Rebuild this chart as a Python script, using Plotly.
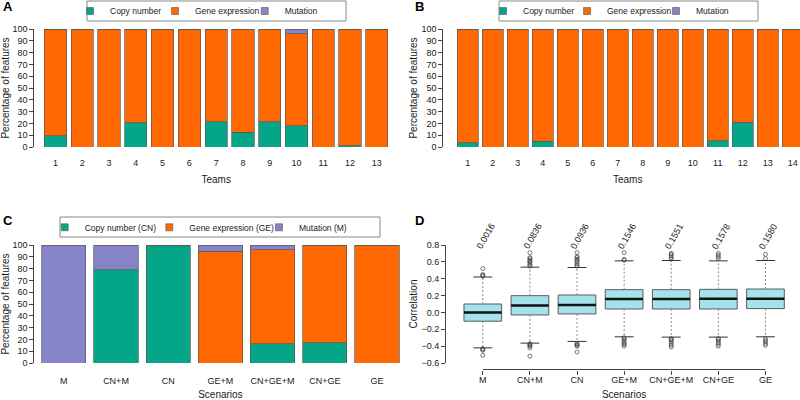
import plotly.graph_objects as go

# ---------------- data ----------------
teams_a = [str(i) for i in range(1, 14)]
cn_a = [9.5, 0, 0, 20.5, 0, 0, 21.5, 12.5, 21.5, 18, 0, 1, 0]
ge_a = [90.5, 100, 100, 79.5, 100, 100, 78.5, 87.5, 78, 78, 100, 99, 100]
mut_a = [0, 0, 0, 0, 0, 0, 0, 0, 0.5, 4, 0, 0, 0]

teams_b = [str(i) for i in range(1, 15)]
cn_b = [3.5, 0, 0, 5, 0, 0, 0, 0, 0, 0, 5.5, 21, 0, 0]
ge_b = [96.5, 100, 100, 95, 100, 100, 100, 100, 100, 100, 94.5, 79, 100, 100]
mut_b = [0] * 14

scenarios = ["M", "CN+M", "CN", "GE+M", "CN+GE+M", "CN+GE", "GE"]
cn_c = [0, 79, 100, 0, 16.5, 17, 0]
ge_c = [0, 0, 0, 94.5, 79.5, 83, 100]
mut_c = [100, 21, 0, 5.5, 4, 0, 0]

q1_d = [-0.104, -0.03, -0.018, 0.041, 0.041, 0.041, 0.045]
med_d = [0.0, 0.081, 0.089, 0.159, 0.159, 0.163, 0.163]
q3_d = [0.10, 0.199, 0.207, 0.27, 0.27, 0.274, 0.278]
whisk_lo_d = [-0.42, -0.364, -0.344, -0.289, -0.293, -0.293, -0.289]
whisk_hi_d = [0.42, 0.537, 0.533, 0.612, 0.616, 0.612, 0.616]
out_hi_d = [
    [0.43, 0.44, 0.45, 0.52],
    [0.55, 0.56, 0.58, 0.60, 0.61, 0.62, 0.64, 0.65, 0.71],
    [0.55, 0.56, 0.58, 0.60, 0.62, 0.63, 0.65, 0.66, 0.71],
    [0.62, 0.63, 0.71],
    [0.63, 0.65, 0.67, 0.69, 0.70],
    [0.64, 0.66, 0.68, 0.70],
    [0.64, 0.69],
]
out_lo_d = [
    [-0.43, -0.44, -0.45, -0.51],
    [-0.37, -0.38, -0.39, -0.40, -0.42, -0.52],
    [-0.37, -0.38, -0.39, -0.40, -0.47],
    [-0.30, -0.31, -0.33, -0.35, -0.37, -0.38, -0.40],
    [-0.31, -0.32, -0.33, -0.35, -0.37, -0.39, -0.41],
    [-0.31, -0.32, -0.34, -0.36, -0.38, -0.40],
    [-0.31, -0.33, -0.35, -0.37, -0.39],
]
means_d = [0.0016, 0.0836, 0.0936, 0.1546, 0.1551, 0.1578, 0.1580]

names_ab = ["Copy number", "Gene expression", "Mutation"]
names_c = ["Copy number (CN)", "Gene expression (GE)", "Mutation (M)"]

# ---------------- style ----------------
C_CN = "#05A688"
C_GE = "#FF6800"
C_M = "#8584C6"
C_BOX = "#A4E3EC"
EDGE = "#5a5a5a"
FONT = "Liberation Sans, Arial, Helvetica, sans-serif"
TXT = "#1a1a1a"

W, H = 800, 400


def px(x):
    return x / W


def py(y):
    return 1 - y / H


fig = go.Figure()


def add_stack(xaxis, yaxis, n, cn, ge, mut, width, names):
    pos = list(range(1, n + 1))
    for vals, col, nm in zip([cn, ge, mut], [C_CN, C_GE, C_M], names):
        fig.add_trace(go.Bar(x=pos, y=vals, width=width, marker=dict(color=col, line=dict(color=EDGE, width=0.7)),
                             name=nm, showlegend=False, xaxis=xaxis, yaxis=yaxis, hoverinfo="x+y+name"))


add_stack("x", "y", len(teams_a), cn_a, ge_a, mut_a, 0.833, names_ab)
add_stack("x2", "y2", len(teams_b), cn_b, ge_b, mut_b, 0.833, names_ab)
add_stack("x3", "y3", len(scenarios), cn_c, ge_c, mut_c, 0.85, names_c)

# legend entries: one single-item legend per entry, positioned like the R legends
legend_specs = [
    # (xaxis, yaxis, names, text x-starts in px, text centre y in px)
    ("x", "y", names_ab, [110, 195, 284.7], 11),
    ("x2", "y2", names_ab, [523, 607, 696], 11),
    ("x3", "y3", names_c, [84.7, 189.3, 299], 227.3),
]
leg_layout = {}
k = 0
for xa, ya, names, xs, yc in legend_specs:
    for col, nm, xt in zip([C_CN, C_GE, C_M], names, xs):
        k += 1
        lid = "legend" if k == 1 else f"legend{k}"
        fig.add_trace(go.Scatter(x=[None], y=[None], mode="markers", name=nm, legend=lid,
                                 marker=dict(symbol="square", size=7, color=col, line=dict(color=EDGE, width=0.6)),
                                 xaxis=xa, yaxis=ya, showlegend=True))
        leg_layout[lid] = dict(orientation="h", xanchor="left", yanchor="middle", borderwidth=0,
                               bgcolor="rgba(0,0,0,0)", font=dict(family=FONT, size=8.5, color=TXT),
                               itemwidth=30, x=px(xt - 40), y=py(yc))

# ---------------- panel D boxes ----------------
pos_d = list(range(1, len(scenarios) + 1))
BW = 0.8
fig.add_trace(go.Box(x=pos_d, q1=q1_d, median=med_d, q3=q3_d, lowerfence=q1_d, upperfence=q3_d,
                     width=BW, fillcolor=C_BOX, line=dict(color=EDGE, width=1), whiskerwidth=0,
                     boxpoints=False, showlegend=False, xaxis="x4", yaxis="y4", name="Correlation"))

wx, wy = [], []
cx, cy = [], []
mx, my = [], []
ox, oy = [], []
for i, p in enumerate(pos_d):
    wx += [p, p, None, p, p, None]
    wy += [q3_d[i], whisk_hi_d[i], None, q1_d[i], whisk_lo_d[i], None]
    cx += [p - BW / 4, p + BW / 4, None, p - BW / 4, p + BW / 4, None]
    cy += [whisk_hi_d[i], whisk_hi_d[i], None, whisk_lo_d[i], whisk_lo_d[i], None]
    mx += [p - BW / 2, p + BW / 2, None]
    my += [med_d[i], med_d[i], None]
    for v in out_hi_d[i] + out_lo_d[i]:
        ox.append(p)
        oy.append(v)

fig.add_trace(go.Scatter(x=wx, y=wy, mode="lines", line=dict(color="#8a8a8a", width=1, dash="2px,2px"),
                         showlegend=False, xaxis="x4", yaxis="y4", hoverinfo="skip"))
fig.add_trace(go.Scatter(x=cx, y=cy, mode="lines", line=dict(color="#333", width=1),
                         showlegend=False, xaxis="x4", yaxis="y4", hoverinfo="skip"))
fig.add_trace(go.Scatter(x=mx, y=my, mode="lines", line=dict(color="#111", width=2.5),
                         showlegend=False, xaxis="x4", yaxis="y4", hoverinfo="skip"))
fig.add_trace(go.Scatter(x=ox, y=oy, mode="markers",
                         marker=dict(symbol="circle-open", size=4, color="#444", line=dict(width=0.7)),
                         showlegend=False, xaxis="x4", yaxis="y4", hoverinfo="y"))

# ---------------- axes ----------------
tickfont = dict(family=FONT, size=9, color=TXT)
titlefont = dict(family=FONT, size=10, color=TXT)

ybase = dict(range=[0, 100], dtick=10, tick0=0, showline=True, linecolor="#444", linewidth=1,
             ticks="outside", ticklen=4, tickcolor="#444", showgrid=False, zeroline=False,
             tickfont=tickfont, anchor="free", automargin=False,
             title=dict(text="Percentage of features", font=titlefont, standoff=2))

xbar = dict(showline=False, ticks="", showgrid=False, zeroline=False, tickfont=tickfont,
            ticklabelstandoff=9, automargin=False)

fig.update_layout(
    xaxis=dict(xbar, domain=[px(42.1), px(390.2)], range=[0.5, 13.5], tickvals=list(range(1, 14)),
               ticktext=teams_a, anchor="y", title=dict(text="Teams", font=titlefont, standoff=8)),
    yaxis=dict(ybase, domain=[py(147), py(29)], position=px(33.3)),
    xaxis2=dict(xbar, domain=[px(455.3), 1.0], range=[0.5, 14.29], tickvals=list(range(1, 15)),
                ticktext=teams_b, anchor="y2", title=dict(text="Teams", font=titlefont, standoff=8)),
    yaxis2=dict(ybase, domain=[py(147), py(29)], position=px(442.3),
                title=dict(text="Percentage of features", font=titlefont, standoff=0)),
    xaxis3=dict(xbar, domain=[px(37.7), px(403.1)], range=[0.5, 7.5], tickvals=pos_d,
                ticktext=scenarios, anchor="y3", ticklabelstandoff=11,
                title=dict(text="Scenarios", font=titlefont, standoff=5)),
    yaxis3=dict(ybase, domain=[py(363), py(245)], position=px(33.3)),
    xaxis4=dict(domain=[px(459.25), px(789)], range=[0.5, 7.5], tickvals=pos_d, ticktext=scenarios,
                showline=False, ticks="outside", ticklen=4, tickcolor="#444", showgrid=False,
                zeroline=False, tickfont=tickfont, anchor="free", position=py(369.5), automargin=False,
                ticklabelstandoff=-2,
                title=dict(text="Scenarios", font=titlefont, standoff=7)),
    yaxis4=dict(domain=[py(363), py(245)], range=[-0.6, 0.8], dtick=0.2, tick0=-0.6, tickformat=".1f",
                showline=True, linecolor="#444", linewidth=1, ticks="outside", ticklen=4, tickcolor="#444",
                showgrid=False, zeroline=False, tickfont=tickfont, anchor="free", position=px(445),
                automargin=False, title=dict(text="Correlation", font=titlefont, standoff=0)),
    barmode="stack",
    width=W, height=H,
    margin=dict(l=0, r=0, t=0, b=0, pad=0, autoexpand=False),
    plot_bgcolor="white", paper_bgcolor="white",
    font=dict(family=FONT, size=9, color=TXT),
    **leg_layout,
)

# legend borders
for x0, x1, y0, y1 in [(87, 346, 1, 21), (499, 758, 1, 21), (60, 380, 217, 237)]:
    fig.add_shape(type="rect", xref="paper", yref="paper", x0=px(x0), x1=px(x1), y0=py(y1), y1=py(y0),
                  line=dict(color="#888", width=1), fillcolor="rgba(0,0,0,0)", layer="below")

# D x-axis line from first to last tick
fig.add_shape(type="line", xref="x4", yref="paper", x0=pos_d[0], x1=pos_d[-1], y0=py(369.5), y1=py(369.5),
              line=dict(color="#444", width=1))

# mean annotations in panel D
for p, m in zip(pos_d, means_d):
    fig.add_annotation(x=p, y=py(236), xref="x4", yref="paper", text=f"{m:.4f}", textangle=-60,
                       showarrow=False, xshift=3, xanchor="center", yanchor="middle",
                       font=dict(family=FONT, size=9, color=TXT))

# panel letters
for t, x, y in [("A", 8, 6.5), ("B", 419, 6.5), ("C", 8, 220), ("D", 419, 220)]:
    fig.add_annotation(x=px(x), y=py(y), xref="paper", yref="paper", text=f"<b>{t}</b>", showarrow=False,
                       font=dict(family=FONT, size=13, color="#000"), xanchor="center", yanchor="middle")

fig.write_html("out.html", config={"displayModeBar": False},
               post_script="document.body.style.margin='0px';")
